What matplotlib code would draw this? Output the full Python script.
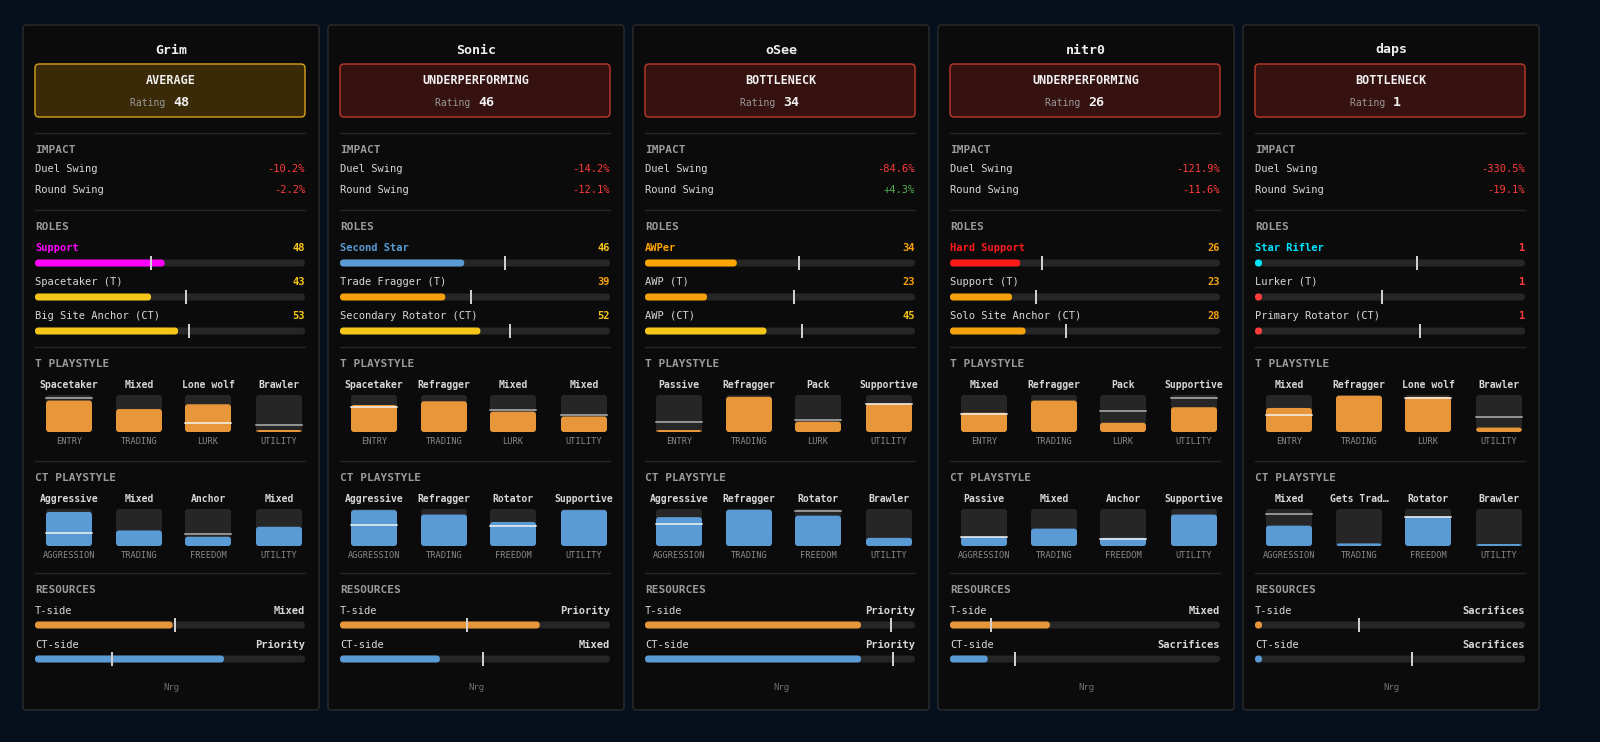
import matplotlib
matplotlib.use("Agg")
import matplotlib.pyplot as plt
from matplotlib.patches import FancyBboxPatch

# ---------------- data ----------------
players = ["Grim", "Sonic", "oSee", "nitr0", "daps"]
verdicts = ["AVERAGE", "UNDERPERFORMING", "BOTTLENECK", "UNDERPERFORMING", "BOTTLENECK"]
ratings = [48, 46, 34, 26, 1]
duel_swing = ["-10.2%", "-14.2%", "-84.6%", "-121.9%", "-330.5%"]
round_swing = ["-2.2%", "-12.1%", "+4.3%", "-11.6%", "-19.1%"]

role_names = [
    ["Support", "Spacetaker (T)", "Big Site Anchor (CT)"],
    ["Second Star", "Trade Fragger (T)", "Secondary Rotator (CT)"],
    ["AWPer", "AWP (T)", "AWP (CT)"],
    ["Hard Support", "Support (T)", "Solo Site Anchor (CT)"],
    ["Star Rifler", "Lurker (T)", "Primary Rotator (CT)"],
]
role_values = [[48, 43, 53], [46, 39, 52], [34, 23, 45], [26, 23, 28], [1, 1, 1]]
role_markers = [[0.43, 0.56, 0.57], [0.61, 0.485, 0.63], [0.57, 0.55, 0.58],
                [0.34, 0.32, 0.43], [0.60, 0.47, 0.61]]
main_role_colors = ["#ff00ff", "#5b9bd5", "#ffa500", "#ff1a1a", "#00e5ff"]

t_axes = ["ENTRY", "TRADING", "LURK", "UTILITY"]
ct_axes = ["AGGRESSION", "TRADING", "FREEDOM", "UTILITY"]
t_labels = [
    ["Spacetaker", "Mixed", "Lone wolf", "Brawler"],
    ["Spacetaker", "Refragger", "Mixed", "Mixed"],
    ["Passive", "Refragger", "Pack", "Supportive"],
    ["Mixed", "Refragger", "Pack", "Supportive"],
    ["Mixed", "Refragger", "Lone wolf", "Brawler"],
]
t_fill = [[0.85, 0.62, 0.75, 0.05], [0.73, 0.83, 0.55, 0.42], [0.03, 0.95, 0.28, 0.77],
          [0.52, 0.85, 0.25, 0.67], [0.65, 0.98, 0.95, 0.12]]
t_mark = [[0.93, None, 0.25, 0.20], [0.68, None, 0.60, 0.45], [0.28, None, 0.32, 0.75],
          [0.50, None, 0.58, 0.92], [0.45, None, 0.92, 0.40]]
ct_labels = [
    ["Aggressive", "Mixed", "Anchor", "Mixed"],
    ["Aggressive", "Refragger", "Rotator", "Supportive"],
    ["Aggressive", "Refragger", "Rotator", "Brawler"],
    ["Passive", "Mixed", "Anchor", "Supportive"],
    ["Mixed", "Gets Trad…", "Rotator", "Brawler"],
]
ct_fill = [[0.92, 0.42, 0.25, 0.52], [0.97, 0.85, 0.65, 0.97], [0.78, 0.98, 0.82, 0.22],
           [0.25, 0.47, 0.22, 0.85], [0.55, 0.07, 0.80, 0.03]]
ct_mark = [[0.35, None, 0.32, None], [0.57, None, 0.55, None], [0.60, None, 0.95, None],
           [0.25, None, 0.20, None], [0.87, None, 0.78, None]]

res_t_label = ["Mixed", "Priority", "Priority", "Mixed", "Sacrifices"]
res_ct_label = ["Priority", "Mixed", "Priority", "Sacrifices", "Sacrifices"]
res_t_fill = [0.51, 0.74, 0.80, 0.37, 0.0]
res_t_mark = [0.52, 0.47, 0.91, 0.15, 0.385]
res_ct_fill = [0.70, 0.37, 0.80, 0.14, 0.0]
res_ct_mark = [0.285, 0.53, 0.92, 0.24, 0.58]

# ---------------- style ----------------
BG = "#06101c"
CARD = "#0b0b0b"
EDGE = "#2c2c2c"
TRACK = "#262626"
ORANGE = "#e8963a"
BLUE = "#5b9bd5"
WHITE = "#f0f0f0"
LABEL = "#d8d8d8"
MUTED = "#9a9a9a"
SEP = "#262626"
FONT = "DejaVu Sans Mono"

fig = plt.figure(figsize=(16, 7.42), dpi=100, facecolor=BG)
ax = fig.add_axes([0, 0, 1, 1])
ax.set_xlim(0, 1600)
ax.set_ylim(742, 0)
ax.axis("off")
PT = 0.72  # points per pixel


def txt(x, y, s, color=LABEL, size=7.5, ha="left", weight="normal"):
    ax.text(x, y, s, color=color, fontsize=size, ha=ha, va="center",
            family=FONT, fontweight=weight)


def rbox(x, y, w, h, fc, ec="none", r=3, lw=1):
    ax.add_patch(FancyBboxPatch((x, y), w, h, boxstyle=f"round,pad=0,rounding_size={r}",
                                fc=fc, ec=ec, lw=lw))


def hbar(x, y, w, frac, color, mark):
    h = 7
    rbox(x, y - h / 2, w, h, TRACK, r=3.5)
    fw = max(frac * w, h)
    rbox(x, y - h / 2, fw, h, color, r=3.5)
    if mark is not None:
        mx = x + mark * w
        ax.plot([mx, mx], [y - 6, y + 6], color="#cfcfcf", lw=2 * PT)


def val_color(v):
    if v >= 40:
        return "#f5c518"
    if v >= 20:
        return "#f5a10b"
    return "#ff3b3b"


def swing_color(s):
    return "#4caf50" if s.startswith("+") else "#ff3b3b"


def tile(cx, top, frac, mark, color):
    w, h = 46, 37
    x = cx - w / 2
    rbox(x, top, w, h, TRACK, r=3)
    fh = max(frac * h, 2)
    rbox(x, top + h - fh, w, fh, color, r=3)
    if mark is not None:
        my = top + h - mark * h
        c = "#f5f5f5" if mark <= frac else "#b5b5b5"
        ax.plot([x, x + w], [my, my], color=c, lw=1.5 * PT)


card_x = [23, 328, 633, 938, 1243]
CW = 296
for i, name in enumerate(players):
    x0 = card_x[i]
    L = x0 + 12
    R = x0 + 282
    W = R - L
    rbox(x0, 25, CW, 685, CARD, EDGE, r=3)
    txt(x0 + CW / 2, 50, name, WHITE, 9.5, "center", "bold")

    # verdict box
    if verdicts[i] == "AVERAGE":
        fc, ec = "#3a2a07", "#d8a21a"
    else:
        fc, ec = "#35110f", "#c0392b"
    rbox(L, 64, W, 53, fc, ec, r=4)
    txt(x0 + CW / 2, 80, verdicts[i], WHITE, 8.5, "center", "bold")
    ax.text(x0 + CW / 2, 103, "Rating ", color=MUTED, fontsize=7, family=FONT,
            ha="right", va="center")
    txt(x0 + CW / 2 + 2, 102.5, str(ratings[i]), WHITE, 9.5, "left", "bold")

    for sy in [133, 210, 347, 461, 573]:
        ax.plot([L, R], [sy, sy], color=SEP, lw=1)

    # impact
    txt(L, 150, "IMPACT", MUTED, 8, weight="bold")
    txt(L, 169, "Duel Swing")
    txt(R, 169, duel_swing[i], swing_color(duel_swing[i]), 7.5, "right")
    txt(L, 190, "Round Swing")
    txt(R, 190, round_swing[i], swing_color(round_swing[i]), 7.5, "right")

    # roles
    txt(L, 227, "ROLES", MUTED, 8, weight="bold")
    for k in range(3):
        ly = 248 + 34 * k
        v = role_values[i][k]
        if k == 0:
            nc, bc = main_role_colors[i], main_role_colors[i]
            wt = "bold"
        else:
            nc, bc = LABEL, val_color(v)
            wt = "normal"
        txt(L, ly, role_names[i][k], nc, 7.5, weight=wt)
        txt(R, ly, str(v), val_color(v), 7.5, "right", "bold")
        hbar(L, ly + 15, W, v / 100, bc, role_markers[i][k])

    # playstyles
    centers = [L + 34, L + 104, L + 173, L + 244]
    for title, ty, labels, fills, marks, axes_n, color in [
        ("T PLAYSTYLE", 364, t_labels[i], t_fill[i], t_mark[i], t_axes, ORANGE),
        ("CT PLAYSTYLE", 478, ct_labels[i], ct_fill[i], ct_mark[i], ct_axes, BLUE),
    ]:
        txt(L, ty, title, MUTED, 8, weight="bold")
        for k in range(4):
            cx = centers[k]
            txt(cx, ty + 21, labels[k], LABEL, 7, "center", "bold")
            tile(cx, ty + 31, fills[k], marks[k], color)
            txt(cx, ty + 77, axes_n[k], "#8a8a8a", 6.2, "center")

    # resources
    txt(L, 590, "RESOURCES", MUTED, 8, weight="bold")
    txt(L, 611, "T-side")
    txt(R, 611, res_t_label[i], LABEL, 7.5, "right", "bold")
    hbar(L, 625, W, res_t_fill[i], ORANGE, res_t_mark[i])
    txt(L, 645, "CT-side")
    txt(R, 645, res_ct_label[i], LABEL, 7.5, "right", "bold")
    hbar(L, 659, W, res_ct_fill[i], BLUE, res_ct_mark[i])

    txt(x0 + CW / 2, 687, "Nrg", "#6f6f6f", 6.5, "center")

fig.savefig("out.png", dpi=100, facecolor=BG)
